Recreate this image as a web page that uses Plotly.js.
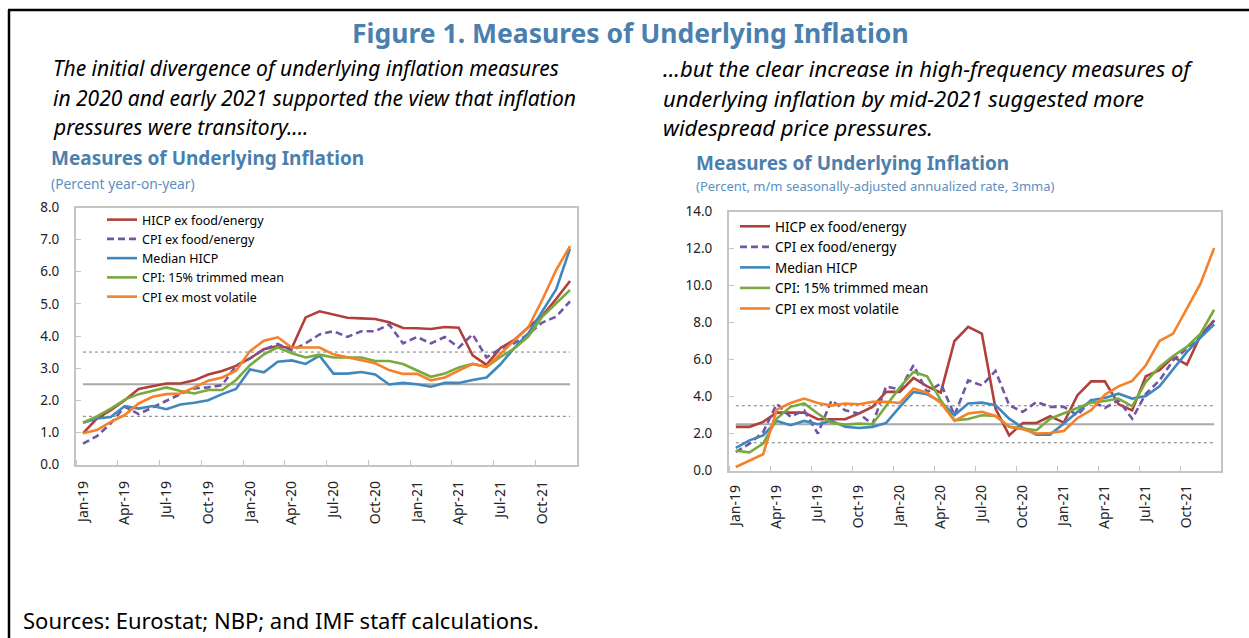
<!DOCTYPE html>
<html>
<head>
<meta charset="utf-8">
<script src="https://cdn.plot.ly/plotly-3.0.1.min.js"></script>
<style>
html,body{margin:0;padding:0;background:#fff;}
#chart{width:1249px;height:638px;}
</style>
</head>
<body>
<div id="chart"></div>
<script>
// ---------- DATA ----------
const months = ['Jan-19','Feb-19','Mar-19','Apr-19','May-19','Jun-19','Jul-19','Aug-19','Sep-19','Oct-19','Nov-19','Dec-19',
  'Jan-20','Feb-20','Mar-20','Apr-20','May-20','Jun-20','Jul-20','Aug-20','Sep-20','Oct-20','Nov-20','Dec-20',
  'Jan-21','Feb-21','Mar-21','Apr-21','May-21','Jun-21','Jul-21','Aug-21','Sep-21','Oct-21','Nov-21','Dec-21'];

const seriesNames = ['HICP ex food/energy','CPI ex food/energy','Median HICP','CPI: 15% trimmed mean','CPI ex most volatile'];

// Left panel: percent year-on-year
const hicpYoY = [0.97,1.43,1.69,2.0,2.35,2.44,2.52,2.52,2.62,2.8,2.91,3.07,3.3,3.59,3.69,3.62,4.58,4.77,4.67,4.57,4.55,4.53,4.43,4.25,4.24,4.22,4.28,4.26,3.4,3.1,3.63,3.88,4.27,4.63,5.15,5.71];
const cpiYoY = [0.65,0.88,1.28,1.8,1.57,1.78,1.98,2.19,2.37,2.4,2.47,3.08,3.3,3.58,3.75,3.55,3.77,4.05,4.15,3.97,4.15,4.15,4.36,3.77,3.97,3.77,3.97,3.64,4.05,3.33,3.61,3.78,4.05,4.42,4.6,5.08];
const medianYoY = [1.3,1.43,1.48,1.82,1.74,1.82,1.72,1.87,1.92,2.0,2.19,2.35,2.96,2.87,3.2,3.24,3.13,3.39,2.83,2.83,2.88,2.8,2.49,2.54,2.5,2.42,2.54,2.54,2.63,2.71,3.12,3.63,4.08,4.76,5.45,6.72];
const trimYoY = [1.3,1.5,1.74,2.02,2.19,2.29,2.4,2.29,2.21,2.32,2.32,2.63,3.09,3.43,3.65,3.46,3.33,3.42,3.33,3.33,3.33,3.22,3.22,3.13,2.94,2.73,2.83,3.02,3.13,3.04,3.35,3.61,3.98,4.6,5.02,5.43];
const volYoY = [0.97,1.07,1.33,1.54,1.9,2.11,2.19,2.21,2.4,2.61,2.71,2.92,3.53,3.85,3.96,3.64,3.64,3.64,3.43,3.33,3.25,3.15,2.94,2.82,2.82,2.62,2.71,2.92,3.13,3.04,3.44,3.87,4.27,5.12,6.05,6.8];

// Right panel: m/m seasonally-adjusted annualized rate, 3mma
const hicpMM = [2.36,2.36,2.63,3.13,3.13,3.13,2.77,2.77,2.77,3.08,3.44,4.25,4.25,5.0,4.55,4.21,7.0,7.76,7.4,3.35,1.9,2.57,2.57,2.93,2.59,4.07,4.82,4.82,3.58,3.25,5.09,5.42,6.14,5.72,7.3,8.12];
const cpiMM = [1.0,1.45,2.08,3.6,2.9,3.25,2.0,3.79,3.25,3.08,2.5,4.55,4.37,5.69,4.24,4.7,2.99,4.87,4.6,5.38,3.53,3.17,3.71,3.44,3.44,2.99,3.8,3.38,3.8,2.8,4.15,4.87,5.96,6.59,7.22,8.12];
const medianMM = [1.22,1.63,1.9,2.68,2.45,2.68,2.5,2.68,2.36,2.3,2.36,2.57,3.44,4.25,4.12,3.71,2.99,3.62,3.67,3.53,2.8,2.3,1.94,1.94,2.54,3.17,3.8,3.92,4.15,3.89,4.03,4.55,5.5,6.4,7.18,7.9];
const trimMM = [1.07,0.98,1.46,2.81,3.44,3.62,3.08,2.57,2.48,2.54,2.5,3.53,4.49,5.33,5.09,3.79,2.71,2.78,2.99,2.95,2.36,2.27,2.18,2.8,3.08,3.35,3.67,3.76,3.89,3.47,4.79,5.6,6.19,6.68,7.4,8.69];
const volMM = [0.19,0.52,0.88,3.29,3.65,3.89,3.65,3.51,3.62,3.58,3.71,3.72,3.65,4.43,4.19,3.65,2.68,3.08,3.17,2.95,2.36,2.23,2.0,2.03,2.14,2.84,3.26,4.1,4.55,4.84,5.69,7.0,7.4,8.75,10.1,12.03];

// Reference levels (band around target)
const targetLevel = 2.5;
const bandLevels = [1.5, 3.5];

// ---------- STYLE ----------
const colors = ['#b0403b','#7356a3','#3f87bd','#79aa3f','#f5822a'];
const dashes = ['solid','7px,4px','solid','solid','solid'];
const W = 1249, H = 638;
const px = x => x / W;
const py = y => 1 - y / H;
const FONT = 'Noto Sans, Open Sans, sans-serif';
const BLUE = '#4b7fae';

const xIdx = months.map((_, i) => i);
const tickIdx = xIdx.filter(i => i % 3 === 0);
const tickTxt = tickIdx.map(i => months[i]);
const boundaries = [];
for (let i = 0; i <= months.length; i += 3) boundaries.push(i - 0.5);

const leftSeries = [hicpYoY, cpiYoY, medianYoY, trimYoY, volYoY];
const rightSeries = [hicpMM, cpiMM, medianMM, trimMM, volMM];

const traces = [];
leftSeries.forEach((ys, k) => traces.push({
  type: 'scatter', mode: 'lines', x: xIdx, y: ys, name: seriesNames[k],
  xaxis: 'x', yaxis: 'y', legend: 'legend', legendgroup: 'L' + k,
  line: {color: colors[k], width: 2.6, dash: dashes[k]}, hoverinfo: 'x+y'
}));
rightSeries.forEach((ys, k) => traces.push({
  type: 'scatter', mode: 'lines', x: xIdx, y: ys, name: seriesNames[k],
  xaxis: 'x2', yaxis: 'y2', legend: 'legend2', legendgroup: 'R' + k,
  line: {color: colors[k], width: 2.6, dash: dashes[k]}, hoverinfo: 'x+y'
}));

function xAxis(domain, anchor, standoff) {
  return {
    domain: domain, anchor: anchor, range: [-0.5, months.length - 0.5],
    tickmode: 'array', tickvals: tickIdx, ticktext: tickTxt, tickangle: -90,
    ticks: '', showgrid: false, zeroline: false,
    showline: true, linecolor: '#c4c4c4', linewidth: 2, mirror: true,
    ticklabelstandoff: standoff,
    tickfont: {family: FONT, size: 14, color: '#222'},
    minor: {tickmode: 'array', tickvals: boundaries, ticks: 'inside', ticklen: 5, tickcolor: '#c4c4c4', tickwidth: 1, showgrid: false}
  };
}
function yAxis(domain, anchor, max, dtick) {
  return {
    domain: domain, anchor: anchor, range: [0, max], dtick: dtick, tick0: 0,
    tickformat: '.1f', ticks: 'inside', ticklen: 5, tickcolor: '#c4c4c4',
    showgrid: false, zeroline: false,
    showline: true, linecolor: '#c4c4c4', linewidth: 2, mirror: true,
    ticklabelstandoff: 12,
    tickfont: {family: FONT, size: 13.5, color: '#222'}
  };
}

function refShapes(xref, yref) {
  const s = [];
  const x0 = xIdx[0], x1 = xIdx[xIdx.length - 1];
  s.push({type: 'line', xref: xref, yref: yref, x0: x0, x1: x1, y0: targetLevel, y1: targetLevel,
          line: {color: '#a8a8a8', width: 2}, layer: 'below'});
  bandLevels.forEach(v => s.push({type: 'line', xref: xref, yref: yref, x0: x0, x1: x1, y0: v, y1: v,
          line: {color: '#7a7a7a', width: 1, dash: 'dot'}, layer: 'below'}));
  return s;
}

const shapes = [
  ...refShapes('x', 'y'), ...refShapes('x2', 'y2'),
  {type: 'line', xref: 'paper', yref: 'paper', x0: px(8), x1: 1, y0: py(10), y1: py(10), line: {color: '#000', width: 2.5}},
  {type: 'line', xref: 'paper', yref: 'paper', x0: px(9), x1: px(9), y0: py(10), y1: 0, line: {color: '#000', width: 2.5}}
];

function ann(text, x, y, size, opts) {
  return Object.assign({
    text: text, xref: 'paper', yref: 'paper', x: px(x), y: py(y),
    xanchor: 'left', yanchor: 'middle', showarrow: false, align: 'left',
    font: {family: FONT, size: size, color: '#000'}
  }, opts || {});
}

const leftPara = ['The initial divergence of underlying inflation measures',
                  'in 2020 and early 2021 supported the view that inflation',
                  'pressures were transitory....'];
const rightPara = ['...but the clear increase in high-frequency measures of',
                   'underlying inflation by mid-2021 suggested more',
                   'widespread price pressures.'];
const paraY = [68, 98, 127];

const annotations = [
  ann('<b>Figure 1. Measures of Underlying Inflation</b>', 630, 33, 26.5, {xanchor: 'center', font: {family: FONT, size: 26.5, color: BLUE}}),
  ...leftPara.map((t, i) => ann('<i>' + t + '</i>', 51, paraY[i], 21)),
  ...rightPara.map((t, i) => ann('<i>' + t + '</i>', 661, paraY[i], 22)),
  ann('<b>Measures of Underlying Inflation</b>', 49, 158, 19, {font: {family: FONT, size: 19, color: BLUE}}),
  ann('(Percent year-on-year)', 49, 183, 13.8, {font: {family: FONT, size: 13.8, color: '#5a8fc2'}}),
  ann('<b>Measures of Underlying Inflation</b>', 694, 163, 19, {font: {family: FONT, size: 19, color: BLUE}}),
  ann('(Percent, m/m seasonally-adjusted annualized rate, 3mma)', 694, 186, 13, {font: {family: FONT, size: 13, color: '#5a8fc2'}}),
  ann('Sources: Eurostat; NBP; and IMF staff calculations.', 21, 620, 22)
];

const layout = {
  width: W, height: H, margin: {l: 0, r: 0, t: 0, b: 0},
  paper_bgcolor: '#fff', plot_bgcolor: '#fff',
  showlegend: true,
  xaxis: xAxis([px(76), px(577)], 'y', 9),
  yaxis: yAxis([py(464.5), py(207.5)], 'x', 8, 1),
  xaxis2: xAxis([px(729), px(1221)], 'y2', 7),
  yaxis2: yAxis([py(470.5), py(211.5)], 'x2', 14, 2),
  legend: {x: px(102), y: py(205), xanchor: 'left', yanchor: 'top', bgcolor: 'rgba(0,0,0,0)',
           font: {family: FONT, size: 12.5, color: '#000'}, tracegroupgap: 0, itemwidth: 30},
  legend2: {x: px(735), y: py(211), xanchor: 'left', yanchor: 'top', bgcolor: 'rgba(0,0,0,0)',
            font: {family: FONT, size: 13.5, color: '#000'}, tracegroupgap: 0, itemwidth: 30},
  shapes: shapes,
  annotations: annotations
};

Plotly.newPlot('chart', traces, layout, {displayModeBar: false, staticPlot: true});
</script>
</body>
</html>
